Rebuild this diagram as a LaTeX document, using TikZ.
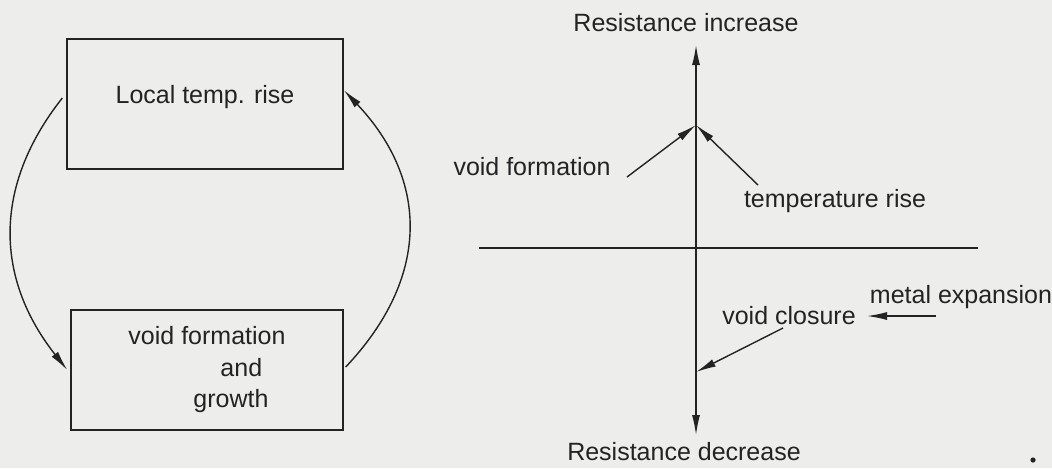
\documentclass[tikz,border=0pt]{standalone}
\usepackage{fontspec}
\setmainfont{Liberation Sans}
\usetikzlibrary{arrows.meta}
\definecolor{paper}{RGB}{237,237,235}
\definecolor{ink}{RGB}{35,35,35}

\begin{document}
\begin{tikzpicture}[x=0.5pt,y=-0.5pt,>={Latex[length=10pt,width=4pt]},
    every node/.style={font=\fontsize{12.5}{15.75}\selectfont,text=ink},
    box/.style={draw=ink,line width=0.7pt,inner sep=0pt},
    link/.style={draw=ink,line width=0.7pt,->},
    axisline/.style={draw=ink,line width=0.7pt}]
    % Fundo
    \fill[paper] (0,0) rectangle (1052,468);
    \useasboundingbox (0,0) rectangle (1052,468);

    % Ciclo
    \node[box,minimum width=138pt,minimum height=65pt] (rise) at (205,104) {};
    \node (risetext) at (205,97) {Local temp. rise};
    \node[box,minimum width=136pt,minimum height=60pt,align=left] (void) at (207,370)
        {void formation\\\hspace{46pt}and\\\hspace{32.5pt}growth};
    \draw[link] ([xshift=-2pt,yshift=3pt]rise.west) .. controls +(-71,90) and +(-71,-90) .. ([xshift=-1.5pt]void.west);
    \draw[link] ([xshift=1pt,yshift=1.5pt]void.east) .. controls +(85,-90) and +(85,90) .. ([yshift=7pt]rise.east);

    % Eixos
    \coordinate (up) at (696,45);
    \coordinate (down) at (696,435);
    \coordinate (hleft) at (479,248);
    \coordinate (hright) at (978,248);
    \draw[axisline,<->] (down) -- (up);
    \draw[axisline] (hleft) -- (hright);
    \node (incr) at (686,23) {Resistance increase};
    \node (decr) at (684,452) {Resistance decrease};

    % Efeitos
    \coordinate (peak) at (696,125);
    \coordinate (vfstart) at (627,177);
    \coordinate (trstart) at (758,185);
    \coordinate (vcstart) at (783,328);
    \coordinate (vcend) at (696,372);
    \coordinate (mestart) at (936,316);
    \coordinate (meend) at (867,316);
    \node (vform) at (532,167) {void formation};
    \node (trise) at (835,201) {temperature rise};
    \node (vclos) at (789,316) {void closure};
    \node (mexp) at (961,297) {metal expansion};
    \draw[link] (vfstart) -- (peak);
    \draw[link] (trstart) -- (peak);
    \draw[link] (vcstart) -- (vcend);
    \draw[link] (mestart) -- (meend);

    \fill[ink] (1033,460) circle (1.3pt);
\end{tikzpicture}
\end{document}
